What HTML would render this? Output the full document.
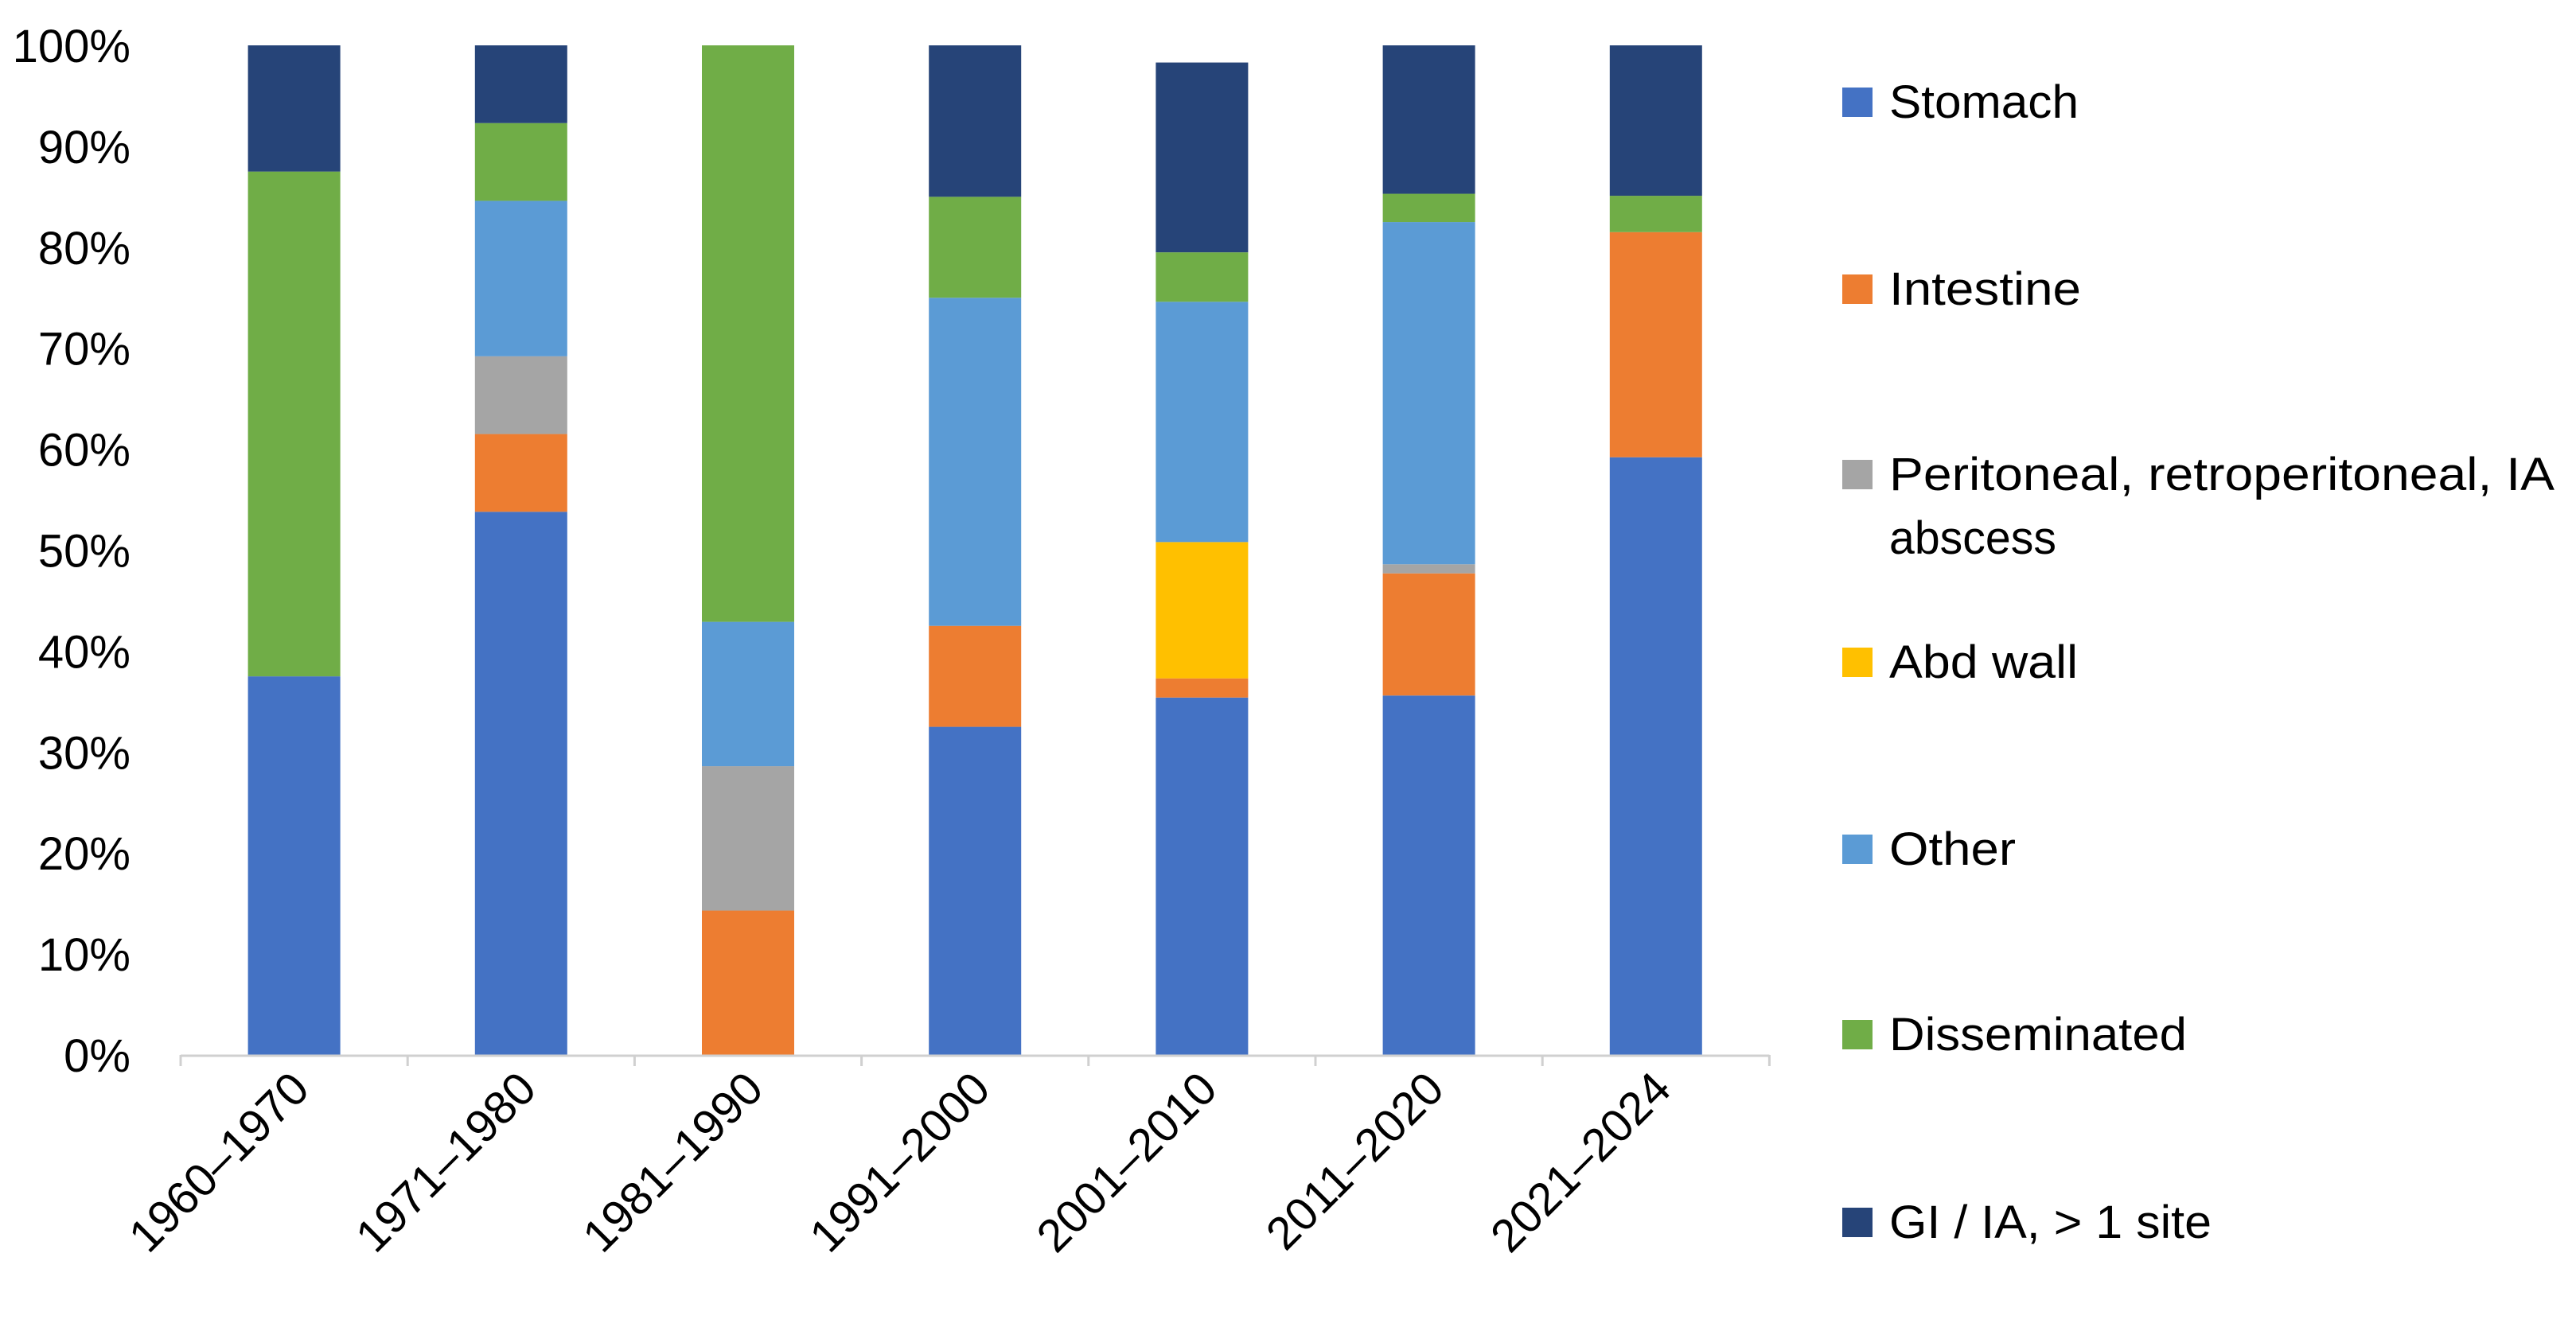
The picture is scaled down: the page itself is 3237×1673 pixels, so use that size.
<!DOCTYPE html>
<html><head><meta charset="utf-8"><style>
html,body{margin:0;padding:0;background:#fff;}
svg{display:block;font-family:"Liberation Sans",sans-serif;}
</style></head><body>
<svg id="chart" width="3237" height="1673" viewBox="0 0 3237 1673" xmlns="http://www.w3.org/2000/svg"></svg>
<script>
const categories = ["1960–1970","1971–1980","1981–1990","1991–2000","2001–2010","2011–2020","2021–2024"];
const seriesNames = ["Stomach","Intestine","Peritoneal, retroperitoneal, IA abscess","Abd wall","Other","Disseminated","GI / IA, > 1 site"];
const stomach      = [37.5, 53.8, 0,    32.5, 35.4, 35.6, 59.2];
const intestine    = [0,    7.7,  14.3, 10.0, 1.9,  12.1, 22.3];
const peritoneal   = [0,    7.7,  14.3, 0,    0,    0.9,  0];
const abdWall      = [0,    0,    0,    0,    13.5, 0,    0];
const other        = [0,    15.4, 14.3, 32.5, 23.8, 33.9, 0];
const disseminated = [50.0, 7.7,  57.1, 10.0, 4.9,  2.8,  3.6];
const giMulti      = [12.5, 7.7,  0,    15.0, 18.8, 14.7, 14.9];
const yTicks = [0,10,20,30,40,50,60,70,80,90,100];
const colors = ["#4472C4","#ED7D31","#A5A5A5","#FFC000","#5B9BD5","#70AD47","#264478"];

const NS="http://www.w3.org/2000/svg";
const svg=document.getElementById('chart');
const X0=227, CW=285.2, Y0=1326, Y1=57;
function yScale(v){return Y0-(Y0-Y1)*v/100;}
function xCenter(i){return X0+CW*(i+0.5);}
const BW=116;
function mk(tag,attrs){const e=document.createElementNS(NS,tag);for(const k in attrs)e.setAttribute(k,attrs[k]);svg.appendChild(e);return e;}

yTicks.forEach(t=>{
  const e=mk('text',{x:164,y:yScale(t)+21,'text-anchor':'end','font-size':58,fill:'#000'});
  
  
  e.textContent=t+'%';
});

const series=[stomach,intestine,peritoneal,abdWall,other,disseminated,giMulti];
categories.forEach((c,i)=>{
  let cum=0;
  series.forEach((s,k)=>{
    const v=s[i]; if(v<=0){return;}
    const top=yScale(cum+v), bot=yScale(cum);
    const r=mk('rect',{x:xCenter(i)-BW/2,y:top,width:BW,height:bot-top,fill:colors[k]});
    
    
    cum+=v;
  });
});

const ax=mk('line',{x1:X0,y1:Y0+1,x2:X0+CW*7,y2:Y0+1,stroke:'#D0D0D0','stroke-width':3});


for(let i=0;i<=7;i++){
  const tk=mk('line',{x1:X0+CW*i,y1:Y0,x2:X0+CW*i,y2:Y0+14,stroke:'#D0D0D0','stroke-width':3});
  
  
}
categories.forEach((c,i)=>{
  const x=xCenter(i)+22, y=1372;
  const e=mk('text',{x:x,y:y,'text-anchor':'end','font-size':58,fill:'#000',transform:`rotate(-45 ${x} ${y})`});
  
  
  e.textContent=c;
});

const legY=[128,363,596,832,1067,1300,1536];
const legLines=[["Stomach"],["Intestine"],["Peritoneal, retroperitoneal, IA","abscess"],["Abd wall"],["Other"],["Disseminated"],["GI / IA, > 1 site"]];
const legW=[238,241,836,237,159,374,405];
legLines.forEach((lines,k)=>{
  const cy=legY[k];
  const g=document.createElementNS(NS,'g');svg.appendChild(g);
  
  
  const r=document.createElementNS(NS,'rect');
  r.setAttribute('x',2315);r.setAttribute('y',cy-18);r.setAttribute('width',38);r.setAttribute('height',37);r.setAttribute('fill',colors[k]);
  
  
  g.appendChild(r);
  lines.forEach((ln,j)=>{
    const t=document.createElementNS(NS,'text');
    t.setAttribute('x',2374);t.setAttribute('y',cy+20+j*80);t.setAttribute('font-size',58);t.setAttribute('fill','#000');
    t.setAttribute('textLength',j===0?legW[k]:210);t.setAttribute('lengthAdjust','spacingAndGlyphs');
    
    
    t.textContent=ln;
    g.appendChild(t);
  });
});
</script>
</body></html>
